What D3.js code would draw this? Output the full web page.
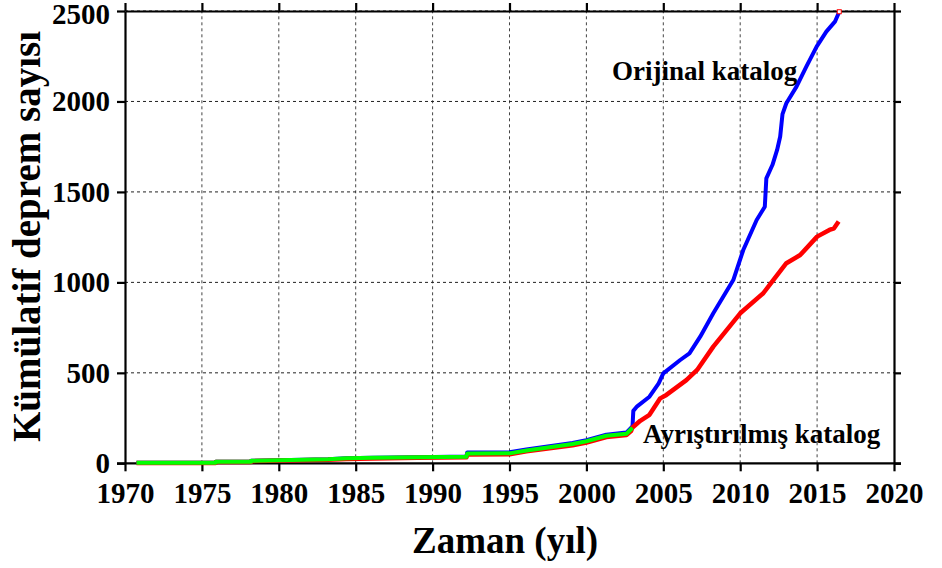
<!DOCTYPE html>
<html>
<head>
<meta charset="utf-8">
<script src="https://cdn.jsdelivr.net/npm/d3@7"></script>
<style>
  body { margin: 0; background: #fff; }
  text { font-family: "Liberation Serif", "Times New Roman", serif; font-weight: bold; }
</style>
</head>
<body>
<svg></svg>
<script>
// Orijinal katalog (blue)
const blueYears = [1970.75, 1975.9, 1975.9, 1978.2, 1978.2, 1983.2, 1984.4, 1986.1, 1989, 1992.2, 1992.25, 1995, 1996.1, 1997.6, 1999.1, 2000, 2001.3, 2002.6, 2002.9, 2003.0, 2003.05, 2003.3, 2004.1, 2004.7, 2005.0, 2006.1, 2006.7, 2007.4, 2008.25, 2009.55, 2010.2, 2011.07, 2011.6, 2011.7, 2012.1, 2012.4, 2012.6, 2012.75, 2013.0, 2013.66, 2014.3, 2014.97, 2015.6, 2016.16, 2016.44];
const blueValues = [3, 3, 9, 9, 14, 22, 28, 31, 34, 38, 60, 61, 76, 95, 113, 128, 158, 170, 196, 205, 290, 315, 368, 442, 497, 571, 608, 700, 829, 1013, 1179, 1345, 1418, 1575, 1650, 1732, 1806, 1930, 1990, 2082, 2192, 2303, 2386, 2441, 2496];

// Ayrıştırılmış katalog (red)
const redYears = [1970.75, 1975.9, 1975.9, 1978.2, 1978.2, 1983.2, 1984.4, 1986.1, 1989, 1992.2, 1992.25, 1995, 1996.1, 1997.6, 1999.1, 2000, 2001.3, 2002.6, 2002.9, 2003.0, 2003.5, 2004.1, 2004.8, 2005.2, 2006.5, 2007.2, 2008.25, 2010.0, 2011.5, 2012.15, 2013.0, 2013.9, 2015.0, 2015.8, 2016.1, 2016.4];
const redValues = [2, 2, 7, 7, 12, 19, 24, 27, 30, 33, 48, 50, 66, 83, 100, 115, 145, 156, 178, 198, 235, 268, 359, 378, 460, 516, 645, 829, 940, 1013, 1106, 1151, 1253, 1290, 1299, 1336];

// green series (until 2003)
const greenYears = [1970.75, 1975.9, 1975.9, 1978.2, 1978.2, 1983.2, 1984.4, 1986.1, 1989, 1992.2, 1992.25, 1995, 1996.1, 1997.6, 1999.1, 2000, 2001.3, 2002.6, 2002.9, 2003.0];
const greenValues = [3, 3, 9, 9, 14, 22, 28, 31, 34, 36, 54, 55, 71, 89, 107, 122, 152, 163, 188, 196];

const xTicks = [1970, 1975, 1980, 1985, 1990, 1995, 2000, 2005, 2010, 2015, 2020];
const yTicks = [0, 500, 1000, 1500, 2000, 2500];

const svg = d3.select("svg").attr("width", 942).attr("height", 568);

const margin = { top: 11, right: 48, bottom: 104.7, left: 125 };
const width = 942 - margin.left - margin.right;
const height = 568 - margin.top - margin.bottom;

const x = d3.scaleLinear().domain([1970, 2020]).range([margin.left, margin.left + width]);
const y = d3.scaleLinear().domain([0, 2500]).range([margin.top + height, margin.top]);

// grid
svg.append("g")
  .selectAll("line")
  .data(xTicks.slice(1, -1))
  .join("line")
  .attr("x1", (d) => x(d)).attr("x2", (d) => x(d))
  .attr("y1", y(0)).attr("y2", y(2500))
  .attr("stroke", "#444").attr("stroke-width", 1).attr("stroke-dasharray", "3,3");

svg.append("g")
  .selectAll("line")
  .data(yTicks.slice(1))
  .join("line")
  .attr("x1", x(1970)).attr("x2", x(2020))
  .attr("y1", (d) => y(d)).attr("y2", (d) => y(d))
  .attr("stroke", "#222").attr("stroke-width", 1).attr("stroke-dasharray", "3,3");

// axes
const axBottom = svg.append("g")
  .attr("transform", `translate(0,${y(0)})`)
  .call(d3.axisBottom(x).tickValues(xTicks).tickFormat(d3.format("d")).tickSizeInner(8).tickSizeOuter(0));
const axLeft = svg.append("g")
  .attr("transform", `translate(${x(1970)},0)`)
  .call(d3.axisLeft(y).tickValues(yTicks).tickFormat(d3.format("d")).tickSizeInner(8).tickSizeOuter(0).tickPadding(7));
const axTop = svg.append("g")
  .attr("transform", `translate(0,${y(2500)})`)
  .call(d3.axisTop(x).tickValues(xTicks).tickFormat("").tickSizeInner(8).tickSizeOuter(0));
const axRight = svg.append("g")
  .attr("transform", `translate(${x(2020)},0)`)
  .call(d3.axisRight(y).tickValues(yTicks).tickFormat("").tickSizeInner(7).tickSizeOuter(0));

[axBottom, axLeft, axTop, axRight].forEach((a) => {
  a.select(".domain").attr("stroke", "#000").attr("stroke-width", 2.2);
  a.selectAll(".tick line").attr("stroke", "#000").attr("stroke-width", 2.2);
  a.selectAll("text").attr("fill", "#000").style("font-size", "29px")
    .style("font-family", "'Liberation Serif', serif").style("font-weight", "bold");
});
axBottom.select(".domain").attr("d", `M${x(1970) - 8},0H${x(2020) + 7}`);
axBottom.selectAll(".tick text").attr("y", 40).attr("dy", 0);
// top label sits a little lower so it is not clipped
axLeft.selectAll(".tick text").filter((d) => d === 2500).attr("y", 3);

// lines
const line = (xs, vs) => d3.line().x((d, i) => x(xs[i])).y((d, i) => y(vs[i]))(vs);

svg.append("path").attr("d", line(blueYears, blueValues))
  .attr("fill", "none").attr("stroke", "#0000ff").attr("stroke-width", 4).attr("stroke-linejoin", "round");
svg.append("path").attr("d", line(redYears, redValues))
  .attr("fill", "none").attr("stroke", "#ff0000").attr("stroke-width", 4.5).attr("stroke-linejoin", "round");
svg.append("path").attr("d", line(greenYears, greenValues))
  .attr("fill", "none").attr("stroke", "#00ff00").attr("stroke-width", 4).attr("stroke-linejoin", "round");

// end marker
svg.append("rect")
  .attr("x", x(blueYears[blueYears.length - 1]) - 2)
  .attr("y", y(blueValues[blueValues.length - 1]) - 2)
  .attr("width", 4).attr("height", 4)
  .attr("fill", "#fff").attr("stroke", "#ff0000").attr("stroke-width", 1);

// labels
svg.append("text").attr("x", 612).attr("y", 80).style("font-size", "27px").text("Orijinal katalog");
svg.append("text").attr("x", 643).attr("y", 443).style("font-size", "27px").text("Ayrıştırılmış katalog");

svg.append("text").attr("x", 505).attr("y", 553).attr("text-anchor", "middle")
  .style("font-size", "37px").text("Zaman (yıl)");
svg.append("text").attr("transform", "translate(40,236.5) rotate(-90)").attr("text-anchor", "middle")
  .style("font-size", "39px").text("Kümülatif deprem sayısı");
</script>
</body>
</html>
